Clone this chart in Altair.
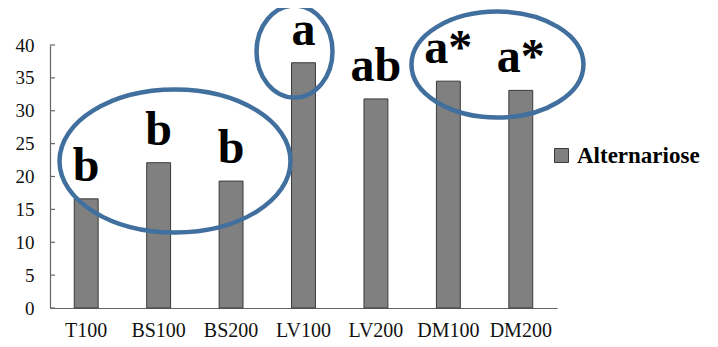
import altair as alt
import pandas as pd

# ---- data ----
categories = ["T100", "BS100", "BS200", "LV100", "LV200", "DM100", "DM200"]
values = [16.6, 22.1, 19.3, 37.3, 31.8, 34.5, 33.1]
letters = ["b", "b", "b", "a", "ab", "a*", "a*"]
series_name = "Alternariose"
y_ticks = [0, 5, 10, 15, 20, 25, 30, 35, 40]

# annotation ellipses: centre (category index units, value units)
ellipse_pos = [1.226, 2.876, 5.678]
ellipse_val = [22.36, 39.0, 37.03]

# ---- styling ----
SERIF = "Liberation Serif"
BAR_FILL = "#808080"
BAR_STROKE = "#3a3a3a"
ELLIPSE_COLOR = "#41709E"
AXIS_COLOR = "#666666"

df = pd.DataFrame({"cat": categories, "val": values, "lab": letters,
                   "series": [series_name] * len(categories)})
ticks_df = pd.DataFrame({"t": y_ticks})

x_scale = alt.Scale(domain=categories, paddingInner=0.67, paddingOuter=0.335)
y_scale = alt.Scale(domain=[0, 40], nice=False, zero=True)

y_axis = alt.Axis(values=y_ticks, ticks=False, labelPadding=16, labelOverlap=False,
                  labelFont=SERIF, labelFontSize=19, labelColor="#111",
                  domainColor=AXIS_COLOR, domainWidth=1.2, grid=False, title=None)

bars = alt.Chart(df).mark_bar(stroke=BAR_STROKE, strokeWidth=1).encode(
    x=alt.X("cat:N", sort=categories, scale=x_scale, title=None,
            axis=alt.Axis(labelAngle=0, ticks=False, labelPadding=12,
                          labelFont=SERIF, labelFontSize=20, labelColor="#111",
                          domainColor=AXIS_COLOR, domainWidth=1.2, grid=False)),
    y=alt.Y("val:Q", scale=y_scale, title=None, axis=y_axis),
    color=alt.Color("series:N", scale=alt.Scale(range=[BAR_FILL]), title=None,
                    legend=alt.Legend(orient="none", legendX=500, legendY=99,
                                      padding=0, symbolType="square",
                                      symbolSize=196, symbolStrokeColor=BAR_STROKE,
                                      symbolStrokeWidth=1, symbolFillColor=BAR_FILL,
                                      labelFont=SERIF, labelFontWeight="bold",
                                      labelFontSize=23, labelColor="#000",
                                      labelOffset=4, labelLimit=200)),
)

text = alt.Chart(df).mark_text(font=SERIF, fontWeight="bold", fontSize=48,
                                baseline="alphabetic", align="center",
                                dy=-18, color="#000").encode(
    x=alt.X("cat:N", sort=categories, scale=x_scale, axis=None),
    y=alt.Y("val:Q", scale=y_scale, title=None, axis=y_axis),
    text="lab:N",
)

tick_marks = alt.Chart(ticks_df).mark_rule(color=AXIS_COLOR, strokeWidth=1.2).encode(
    y=alt.Y("t:Q", scale=y_scale, title=None, axis=y_axis),
    x=alt.value(0),
    x2=alt.value(5),
)


def ellipse_path(ratio):
    k = 0.5523
    r = ratio
    return (f"M -1 0 C -1 {-k*r:.4f} {-k:.4f} {-r:.4f} 0 {-r:.4f} "
            f"C {k:.4f} {-r:.4f} 1 {-k*r:.4f} 1 0 "
            f"C 1 {k*r:.4f} {k:.4f} {r:.4f} 0 {r:.4f} "
            f"C {-k:.4f} {r:.4f} -1 {k*r:.4f} -1 0 Z")


# half-width / half-height of each ellipse in pixels
ellipse_axes = [(115.5, 71.5), (38.0, 46.0), (86.0, 53.0)]
x_idx_scale = alt.Scale(domain=[-0.5, len(categories) - 0.5], nice=False, zero=False)

ellipse_layers = []
for i, (hw, hh) in enumerate(ellipse_axes):
    edf = pd.DataFrame({"pos": [ellipse_pos[i]], "val": [ellipse_val[i]]})
    ellipse_layers.append(
        alt.Chart(edf).mark_point(shape=ellipse_path(hh / hw), size=(2 * hw) ** 2,
                                  filled=False, stroke=ELLIPSE_COLOR,
                                  strokeWidth=4.5, opacity=1).encode(
            x=alt.X("pos:Q", scale=x_idx_scale, axis=None),
            y=alt.Y("val:Q", scale=y_scale, title=None, axis=y_axis),
        )
    )

chart = alt.layer(bars, text, tick_marks, *ellipse_layers).resolve_scale(
    x="independent"
).properties(
    width=507, height=263,
    autosize=alt.AutoSizeParams(type="none"),
    padding={"left": 42, "top": 37, "right": 153, "bottom": 31},
    background="white",
).configure_view(strokeWidth=0)

chart.save("out.html", embed_options={"renderer": "svg", "actions": False})
